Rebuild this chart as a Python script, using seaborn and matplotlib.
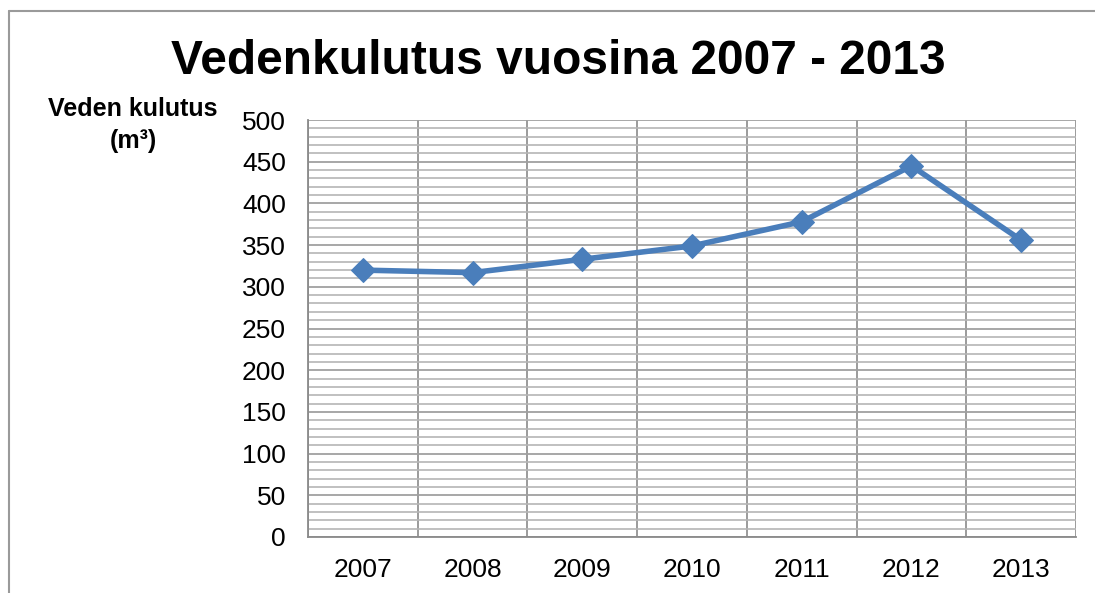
import numpy as np
import pandas as pd
import matplotlib
matplotlib.use("Agg")
import matplotlib.pyplot as plt
from matplotlib.lines import Line2D
from matplotlib.ticker import MultipleLocator, FixedLocator
import seaborn as sns

# data
years  = ["2007", "2008", "2009", "2010", "2011", "2012", "2013"]
values = [320, 317, 333, 349, 378, 445, 356]
yticks = [0, 50, 100, 150, 200, 250, 300, 350, 400, 450, 500]

title  = "Vedenkulutus vuosina 2007 - 2013"
ylabel = "Veden kulutus\n(m³)"

sns.set_theme(style="white")
plt.rcParams["font.family"] = ["Liberation Sans", "DejaVu Sans"]
plt.rcParams["text.color"] = "black"

df = pd.DataFrame({"x": np.arange(len(years)), "value": values})

W, H = 1095, 593
fig = plt.figure(figsize=(W / 100, H / 100), dpi=100)
ax = fig.add_axes([308 / W, 1 - 537 / H, (1076 - 308) / W, (537 - 120) / H])

sns.lineplot(data=df, x="x", y="value", ax=ax, color="#4A7EBB", linewidth=4,
             marker="D", markersize=12, markeredgecolor="#4A7EBB", zorder=5)

ax.set_xlim(-0.5, len(years) - 0.5)
ax.set_ylim(0, 500)
ax.set_xticks(np.arange(len(years)))
ax.set_xticklabels(years)
ax.set_yticks(yticks)
ax.yaxis.set_minor_locator(MultipleLocator(10))
ax.xaxis.set_minor_locator(FixedLocator(np.arange(-0.5, len(years), 1.0)))

ax.grid(False)
ax.grid(which="minor", axis="y", color="#b5b5b5", linewidth=1.2)
ax.grid(which="major", axis="y", color="#a0a0a0", linewidth=1.3)
ax.grid(which="minor", axis="x", color="#8a8a8a", linewidth=1.2)
ax.set_axisbelow(True)

ax.tick_params(axis="both", which="both", length=0, labelsize=19, colors="black")
ax.tick_params(axis="x", pad=15)
ax.tick_params(axis="y", pad=16)
for s in ["top", "right"]:
    ax.spines[s].set_visible(False)
for s in ["left", "bottom"]:
    ax.spines[s].set_color("#8a8a8a")
    ax.spines[s].set_linewidth(1.3)
ax.set_xlabel("")
ax.set_ylabel("")

fig.text(558 / W, 1 - 62 / H, title, ha="center", va="center",
         fontsize=34.5, fontweight="bold", color="black")
fig.text(133 / W, 1 - 125 / H, ylabel, ha="center", va="center",
         fontsize=18, fontweight="bold", linespacing=1.4, color="black")

# figure frame (top and left edges)
fig.add_artist(Line2D([9 / W, 9 / W], [0, 1 - 11 / H], transform=fig.transFigure,
                      color="#9a9a9a", linewidth=1.5))
fig.add_artist(Line2D([9 / W, 1], [1 - 11 / H, 1 - 11 / H], transform=fig.transFigure,
                      color="#9a9a9a", linewidth=1.5))

fig.savefig("out.png", dpi=100)
plt.close(fig)
